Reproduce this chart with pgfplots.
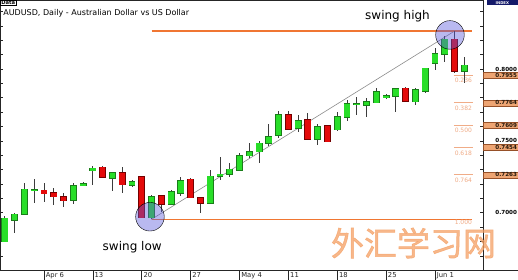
\documentclass[border=0pt]{standalone}
\usepackage{fontspec}
\setmainfont{DejaVu Sans}
\newfontfamily\cjk[FakeBold=1.5]{Noto Sans CJK SC}
\usepackage{pgfplots}
\usepackage{pgfplotstable}
\pgfplotsset{compat=1.18}
\definecolor{cgreen}{RGB}{40,222,40}
\definecolor{cgreenD}{RGB}{25,125,25}
\definecolor{cred}{RGB}{228,10,10}
\definecolor{credD}{RGB}{115,0,0}
\definecolor{wick}{RGB}{60,60,60}
\definecolor{fibline}{RGB}{240,118,50}
\definecolor{fiblight}{RGB}{240,172,135}
\definecolor{boxfill}{RGB}{238,165,115}
\definecolor{boxdraw}{RGB}{150,80,40}
\definecolor{circ}{RGB}{90,90,220}
\definecolor{wm}{RGB}{245,160,100}
\definecolor{navy}{RGB}{20,25,105}

\pgfplotstableread{
x  o      h      l      c
-4 0.6798 0.6974 0.6793 0.6960
-3 0.6949 0.7000 0.6861 0.6989
-2 0.6989 0.7205 0.6984 0.7163
-1 0.7156 0.7232 0.7065 0.7159
3  0.7088 0.7205 0.7061 0.7186
4  0.7191 0.7216 0.7186 0.7200
5  0.7292 0.7325 0.7193 0.7309
7  0.7241 0.7285 0.7153 0.7278
9  0.7193 0.7228 0.7181 0.7214
11 0.6965 0.7123 0.6954 0.7111
13 0.7061 0.7158 0.7058 0.7146
14 0.7135 0.7251 0.7116 0.7223
17 0.7065 0.7297 0.7061 0.7253
18 0.7255 0.7386 0.7228 0.7267
19 0.7269 0.7348 0.7251 0.7302
20 0.7297 0.7413 0.7290 0.7395
21 0.7397 0.7483 0.7379 0.7424
22 0.7424 0.7501 0.7344 0.7483
23 0.7483 0.7615 0.7464 0.7529
24 0.7541 0.7710 0.7518 0.7680
26 0.7587 0.7680 0.7564 0.7640
28 0.7513 0.7617 0.7471 0.7598
30 0.7578 0.7701 0.7569 0.7666
31 0.7664 0.7784 0.7638 0.7758
32 0.7753 0.7807 0.7680 0.7756
33 0.7749 0.7796 0.7668 0.7772
34 0.7765 0.7866 0.7761 0.7842
35 0.7803 0.7826 0.7791 0.7814
36 0.7812 0.7866 0.7703 0.7861
38 0.7772 0.7866 0.7746 0.7856
39 0.7847 0.8007 0.7831 0.8005
40 0.8042 0.8148 0.7993 0.8104
41 0.8104 0.8233 0.8051 0.8207
43 0.7985 0.8086 0.7906 0.8026
}\uptab

\pgfplotstableread{
x  o      h      l      c
0  0.7156 0.7209 0.7077 0.7132
1  0.7139 0.7170 0.7054 0.7111
2  0.7111 0.7135 0.7042 0.7084
6  0.7316 0.7325 0.7239 0.7246
8  0.7278 0.7316 0.7139 0.7195
10 0.7251 0.7254 0.6963 0.6965
12 0.7118 0.7120 0.7007 0.7061
15 0.7232 0.7239 0.7100 0.7104
16 0.7104 0.7111 0.6996 0.7065
25 0.7682 0.7710 0.7579 0.7582
27 0.7645 0.7696 0.7506 0.7511
29 0.7603 0.7610 0.7492 0.7494
37 0.7866 0.7877 0.7772 0.7774
42 0.8207 0.8264 0.7970 0.7983
}\downtab

\pgfplotstableread{
x     y
11.02 0.8264
43.79 0.8264
}\hightab
\pgfplotstableread{
x     y
11.02 0.6954
43.79 0.6954
}\lowtab

\pgfplotsset{
  wickstyle/.style={draw=none, forget plot,
    error bars/.cd, y dir=both, y explicit, error mark=none,
    error bar style={draw=wick, line width=0.9pt}},
  bodyout/.style={draw=none, forget plot,
    error bars/.cd, y dir=both, y explicit, error mark=none,
    error bar style={draw=#1, line width=6.9pt}},
  bodyin/.style={draw=none, forget plot,
    error bars/.cd, y dir=both, y explicit, error mark=none,
    error bar style={draw=#1, line width=5.5pt}},
}

\begin{document}
\begin{tikzpicture}[x=1pt,y=1pt]
\fill[white] (0,0) rectangle (518,280);
\begin{axis}[
  at={(0pt,9.3pt)}, anchor=south west,
  scale only axis, width=483pt, height=270.7pt,
  xmin=-4.5, xmax=44.91, ymin=0.65964, ymax=0.84802,
  axis line style={draw=black!85, line width=0.7pt},
  tick align=inside,
  xtick={0,5,...,40},
  xticklabels={Apr 6,13,20,27,May 4,11,18,25,Jun 1},
  xtick pos=bottom,
  major tick length=9.3pt,
  minor tick length=2.7pt,
  major x tick style={yshift=-9.3pt, draw=black!85, line width=0.6pt},
  major y tick style={draw=none},
  minor y tick style={draw=black!85, line width=0.5pt},
  ytick={0.70,0.75,0.80},
  minor ytick={0.66,0.67,...,0.845},
  ytick pos=both,
  yticklabel pos=right,
  /pgf/number format/assume math mode=true,
  x tick label style={anchor=base west, inner sep=0pt, xshift=1.6pt, yshift=-7pt,
    font=\fontsize{6.8}{7}\selectfont, text=black!85},
  y tick label style={anchor=east, xshift=35pt, inner xsep=0.8pt, inner ysep=0pt,
    minimum height=6pt, text width=33.2pt, align=right,
    font=\bfseries\fontsize{5.6}{6}\selectfont, text=black,
    /pgf/number format/fixed, /pgf/number format/fixed zerofill,
    /pgf/number format/precision=4},
  extra y ticks={0.7955,0.7764,0.7609,0.7454,0.7263},
  extra y tick style={tick style={draw=none},
    y tick label style={fill=boxfill, draw=boxdraw, line width=0.4pt, text=black!80!brown}},
  clip=true,
]
% diagonal from swing low to swing high
\addplot[draw=black!45, line width=0.6pt, forget plot] coordinates {(11,0.6954) (42,0.8264)};
% swing high / swing low horizontal lines
\addplot[draw=fibline, line width=1.4pt, forget plot] table[x=x,y=y] {\hightab};
\addplot[draw=fibline, line width=1.6pt, forget plot] table[x=x,y=y] {\lowtab};
% short fib lines
\addplot[draw=fiblight, line width=0.9pt, forget plot] coordinates {(41.94,0.7955) (43.86,0.7955)};
\addplot[draw=fiblight, line width=0.9pt, forget plot] coordinates {(41.94,0.7764) (43.86,0.7764)};
\addplot[draw=fiblight, line width=0.9pt, forget plot] coordinates {(41.94,0.7609) (43.86,0.7609)};
\addplot[draw=fiblight, line width=0.9pt, forget plot] coordinates {(41.94,0.7454) (43.86,0.7454)};
\addplot[draw=fiblight, line width=0.9pt, forget plot] coordinates {(41.94,0.7263) (43.86,0.7263)};
% wicks
\addplot[wickstyle] table[x=x, y expr={(\thisrow{h}+\thisrow{l})/2}, y error expr={(\thisrow{h}-\thisrow{l})/2}] {\uptab};
\addplot[wickstyle] table[x=x, y expr={(\thisrow{h}+\thisrow{l})/2}, y error expr={(\thisrow{h}-\thisrow{l})/2}] {\downtab};
% bodies
\addplot[bodyout=cgreenD] table[x=x, y expr={(\thisrow{o}+\thisrow{c})/2}, y error expr={abs(\thisrow{c}-\thisrow{o})/2+0.00045}] {\uptab};
\addplot[bodyin=cgreen] table[x=x, y expr={(\thisrow{o}+\thisrow{c})/2}, y error expr={abs(\thisrow{c}-\thisrow{o})/2}] {\uptab};
\addplot[bodyout=credD] table[x=x, y expr={(\thisrow{o}+\thisrow{c})/2}, y error expr={abs(\thisrow{c}-\thisrow{o})/2+0.00045}] {\downtab};
\addplot[bodyin=cred] table[x=x, y expr={(\thisrow{o}+\thisrow{c})/2}, y error expr={abs(\thisrow{c}-\thisrow{o})/2}] {\downtab};
% highlight circles
\addplot[only marks, mark=*, mark size=14.3pt, forget plot,
  mark options={fill=circ, draw=none, fill opacity=0.42}] coordinates {(10.84,0.6972) (41.53,0.8237)};
% fib labels
\begin{scope}[every node/.style={anchor=north, inner sep=0pt, text=fiblight, font=\fontsize{6}{6}\selectfont}]
\node at (axis cs:42.9,0.7955) [yshift=-2.2pt] {0.236};
\node at (axis cs:42.9,0.7764) [yshift=-3pt] {0.382};
\node at (axis cs:42.9,0.7609) [yshift=-3pt] {0.500};
\node at (axis cs:42.9,0.7454) [yshift=-3pt] {0.618};
\node at (axis cs:42.9,0.7263) [yshift=-3pt] {0.764};
\node at (axis cs:42.9,0.6954) [yshift=-0.8pt] {1.000};
\end{scope}
\end{axis}
% watermark
\node[anchor=north, text=wm, opacity=0.75, inner sep=0pt, font=\cjk\fontsize{33}{33}\selectfont] at (413.5,52.5) {外汇学习网};
% titles and annotations
\node[anchor=base west, inner sep=0pt, font=\fontsize{8}{8}\selectfont] at (3.2,264.7) {AUDUSD, Daily - Australian Dollar vs US Dollar};
\node[anchor=base, inner sep=0pt, font=\fontsize{12}{12}\selectfont] at (397.5,260.7) {swing high};
\node[anchor=base, inner sep=0pt, font=\fontsize{12}{12}\selectfont] at (132.2,29.3) {swing low};
\node[draw=black, line width=0.5pt, anchor=north west, inner xsep=0.8pt, inner ysep=0.6pt,
  font=\bfseries\fontsize{5.2}{5.2}\selectfont] at (0.3,279.7) {Data};
\node[fill=navy, text=white, anchor=north east, minimum width=31pt, minimum height=5pt, inner sep=0pt,
  font=\bfseries\fontsize{3.8}{3.8}\selectfont] at (518,280) {INDEX};
\draw[black!85, line width=0.7pt] (483,9.3) -- (518,9.3);
\pgfresetboundingbox
\path[use as bounding box] (0,0) rectangle (518,280);
\end{tikzpicture}
\end{document}
